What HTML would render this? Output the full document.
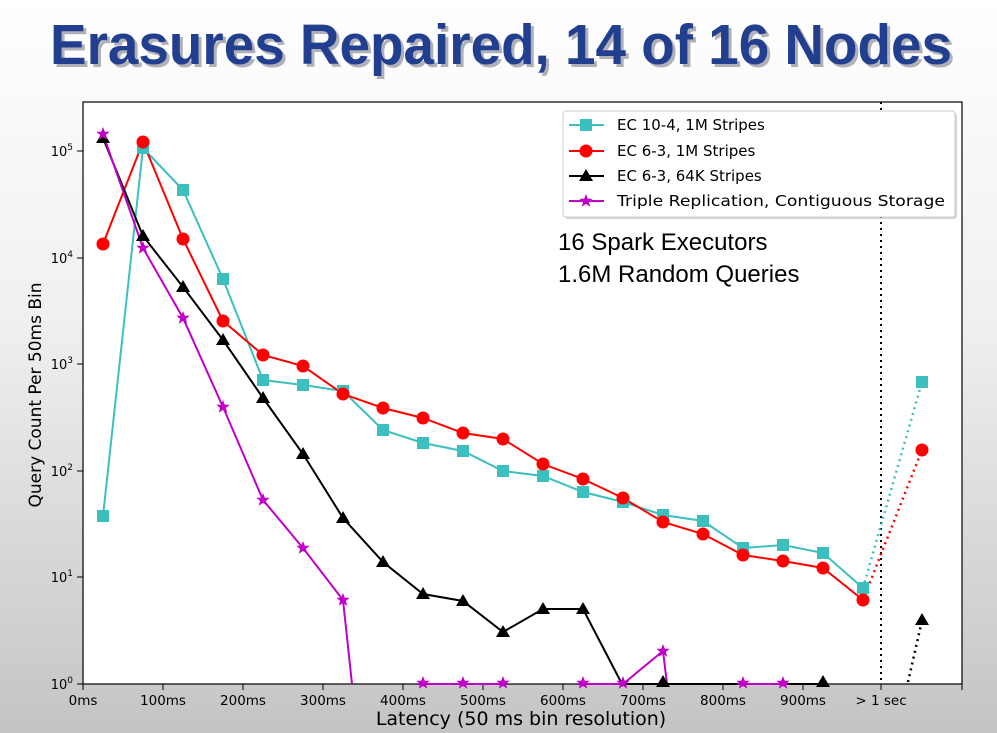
<!DOCTYPE html>
<html><head><meta charset="utf-8"><style>
html,body{margin:0;padding:0;width:997px;height:733px;overflow:hidden;}
body{background:#ddd;font-family:"DejaVu Sans","Liberation Sans",sans-serif;}
</style></head><body>
<svg width="997" height="733" xmlns="http://www.w3.org/2000/svg" style="position:absolute;left:0;top:0" font-family="DejaVu Sans, Liberation Sans, sans-serif">
<defs>
<linearGradient id="bg" x1="0" y1="0" x2="0" y2="1"><stop offset="0" stop-color="#fff"/><stop offset="0.45" stop-color="#efefef"/><stop offset="1" stop-color="#c4c4c4"/></linearGradient>
<g id="sq"><rect x="-6" y="-6" width="12" height="12" fill="#3cbfbf"/></g>
<g id="ci"><circle r="6.5" fill="#f00"/></g>
<g id="tr"><polygon points="0,-7 7,5 -7,5" fill="#000"/></g>
<g id="st"><polygon points="0,-7 1.8,-2.3 6.7,-2.2 2.9,0.9 4.2,5.7 0,2.9 -4.2,5.7 -2.9,0.9 -6.7,-2.2 -1.8,-2.3" fill="#c000c8"/></g>
</defs>
<rect width="997" height="733" fill="url(#bg)"/>
<text x="50" y="64" font-family="Liberation Sans, sans-serif" font-size="57" font-weight="bold" fill="#556" opacity="0.45" transform="translate(3,3)" textLength="902" lengthAdjust="spacingAndGlyphs">Erasures Repaired, 14 of 16 Nodes</text>
<text x="50" y="64" font-family="Liberation Sans, sans-serif" font-size="57" font-weight="bold" fill="#223f8f" textLength="902" lengthAdjust="spacingAndGlyphs">Erasures Repaired, 14 of 16 Nodes</text>
<rect x="83" y="102" width="879" height="582" fill="#fff" stroke="#000" stroke-width="1.2"/>
<line x1="881" y1="102" x2="881" y2="684" stroke="#000" stroke-width="2" stroke-dasharray="2,4"/>
<g stroke="#000" stroke-width="1">
<line x1="77" y1="684" x2="83" y2="684"/><line x1="77" y1="577" x2="83" y2="577"/><line x1="77" y1="471" x2="83" y2="471"/><line x1="77" y1="364" x2="83" y2="364"/><line x1="77" y1="258" x2="83" y2="258"/><line x1="77" y1="151" x2="83" y2="151"/>
</g>
<g font-size="13" fill="#000" text-anchor="end">
<text x="73" y="689">10<tspan font-size="9" dy="-6">0</tspan></text>
<text x="73" y="582">10<tspan font-size="9" dy="-6">1</tspan></text>
<text x="73" y="476">10<tspan font-size="9" dy="-6">2</tspan></text>
<text x="73" y="369">10<tspan font-size="9" dy="-6">3</tspan></text>
<text x="73" y="263">10<tspan font-size="9" dy="-6">4</tspan></text>
<text x="73" y="156">10<tspan font-size="9" dy="-6">5</tspan></text>
</g>
<g stroke="#000" stroke-width="1">
<line x1="83" y1="684" x2="83" y2="690"/><line x1="163" y1="684" x2="163" y2="690"/><line x1="243" y1="684" x2="243" y2="690"/><line x1="323" y1="684" x2="323" y2="690"/><line x1="403" y1="684" x2="403" y2="690"/><line x1="483" y1="684" x2="483" y2="690"/><line x1="563" y1="684" x2="563" y2="690"/><line x1="643" y1="684" x2="643" y2="690"/><line x1="723" y1="684" x2="723" y2="690"/><line x1="803" y1="684" x2="803" y2="690"/><line x1="881" y1="684" x2="881" y2="690"/><line x1="962" y1="684" x2="962" y2="690"/>
</g>
<g font-size="13.5" fill="#000" text-anchor="middle">
<text x="83" y="705">0ms</text><text x="163" y="705">100ms</text><text x="243" y="705">200ms</text><text x="323" y="705">300ms</text><text x="403" y="705">400ms</text><text x="483" y="705">500ms</text><text x="563" y="705">600ms</text><text x="643" y="705">700ms</text><text x="723" y="705">800ms</text><text x="803" y="705">900ms</text><text x="881" y="705">&gt; 1 sec</text>
</g>
<text x="521" y="725" font-size="19" text-anchor="middle">Latency (50 ms bin resolution)</text>
<text transform="translate(41,395) rotate(-90)" font-size="17" text-anchor="middle">Query Count Per 50ms Bin</text>
<polyline fill="none" stroke="#3cbfbf" stroke-width="2" points="103,516 143,148 183,190 223,279 263,380 303,385 343,391 383,430 423,443 463,451 503,471 543,476 583,492 623,502 663,515 703,521 743,548 783,545 823,553 863,588"/>
<line x1="863" y1="588" x2="922" y2="382" stroke="#3cbfbf" stroke-width="2.5" stroke-dasharray="2,4"/>
<polyline fill="none" stroke="#f00" stroke-width="2" points="103,244 143,142 183,239 223,321 263,355 303,366 343,394 383,408 423,418 463,433 503,439 543,464 583,479 623,498 663,522 703,534 743,555 783,561 823,568 863,600"/>
<line x1="863" y1="600" x2="922" y2="450" stroke="#f00" stroke-width="2.5" stroke-dasharray="2,4"/>
<polyline fill="none" stroke="#000" stroke-width="2" points="103,138 143,236 183,287 223,340 263,398 303,454 343,518 383,562 423,594 463,601 503,632 543,609 583,609 622,684 823,684"/>
<line x1="908" y1="682" x2="921" y2="625" stroke="#000" stroke-width="2.5" stroke-dasharray="2,4"/>
<polyline fill="none" stroke="#c000c8" stroke-width="2" points="103,134 143,248 183,318 223,407 263,500 303,548 343,600 352,684"/>
<polyline fill="none" stroke="#c000c8" stroke-width="2" points="418,684 505,684"/>
<polyline fill="none" stroke="#c000c8" stroke-width="2" points="578,684 623,684 663,651 667,684"/>
<polyline fill="none" stroke="#c000c8" stroke-width="2" points="738,684 787,684"/>
<g>
<use href="#sq" x="103" y="516"/><use href="#sq" x="143" y="148"/><use href="#sq" x="183" y="190"/><use href="#sq" x="223" y="279"/><use href="#sq" x="263" y="380"/><use href="#sq" x="303" y="385"/><use href="#sq" x="343" y="391"/><use href="#sq" x="383" y="430"/><use href="#sq" x="423" y="443"/><use href="#sq" x="463" y="451"/><use href="#sq" x="503" y="471"/><use href="#sq" x="543" y="476"/><use href="#sq" x="583" y="492"/><use href="#sq" x="623" y="502"/><use href="#sq" x="663" y="515"/><use href="#sq" x="703" y="521"/><use href="#sq" x="743" y="548"/><use href="#sq" x="783" y="545"/><use href="#sq" x="823" y="553"/><use href="#sq" x="863" y="588"/><use href="#sq" x="922" y="382"/>
<use href="#ci" x="103" y="244"/><use href="#ci" x="143" y="142"/><use href="#ci" x="183" y="239"/><use href="#ci" x="223" y="321"/><use href="#ci" x="263" y="355"/><use href="#ci" x="303" y="366"/><use href="#ci" x="343" y="394"/><use href="#ci" x="383" y="408"/><use href="#ci" x="423" y="418"/><use href="#ci" x="463" y="433"/><use href="#ci" x="503" y="439"/><use href="#ci" x="543" y="464"/><use href="#ci" x="583" y="479"/><use href="#ci" x="623" y="498"/><use href="#ci" x="663" y="522"/><use href="#ci" x="703" y="534"/><use href="#ci" x="743" y="555"/><use href="#ci" x="783" y="561"/><use href="#ci" x="823" y="568"/><use href="#ci" x="863" y="600"/><use href="#ci" x="922" y="450"/>
<use href="#tr" x="103" y="138"/><use href="#tr" x="143" y="236"/><use href="#tr" x="183" y="287"/><use href="#tr" x="223" y="340"/><use href="#tr" x="263" y="398"/><use href="#tr" x="303" y="454"/><use href="#tr" x="343" y="518"/><use href="#tr" x="383" y="562"/><use href="#tr" x="423" y="594"/><use href="#tr" x="463" y="601"/><use href="#tr" x="503" y="632"/><use href="#tr" x="543" y="609"/><use href="#tr" x="583" y="609"/><use href="#tr" x="663" y="682"/><use href="#tr" x="823" y="682"/><use href="#tr" x="922" y="620"/>
<use href="#st" x="103" y="134"/><use href="#st" x="143" y="248"/><use href="#st" x="183" y="318"/><use href="#st" x="223" y="407"/><use href="#st" x="263" y="500"/><use href="#st" x="303" y="548"/><use href="#st" x="343" y="600"/><use href="#st" x="663" y="651"/>
<use href="#st" x="423" y="683"/><use href="#st" x="463" y="683"/><use href="#st" x="503" y="683"/><use href="#st" x="583" y="683"/><use href="#st" x="623" y="683"/><use href="#st" x="743" y="683"/><use href="#st" x="783" y="683"/>
</g>
<rect x="565" y="113" width="392" height="106" rx="3" fill="#999" opacity="0.4"/>
<rect x="563" y="111" width="392" height="106" rx="3" fill="#fff" stroke="#ccc"/>
<g font-size="15" fill="#000">
<line x1="569" y1="125" x2="604" y2="125" stroke="#3cbfbf" stroke-width="2"/><use href="#sq" x="586" y="125"/><text x="617" y="130">EC 10-4, 1M Stripes</text>
<line x1="569" y1="151" x2="604" y2="151" stroke="#f00" stroke-width="2"/><use href="#ci" x="586" y="151"/><text x="617" y="156">EC 6-3, 1M Stripes</text>
<line x1="569" y1="176" x2="604" y2="176" stroke="#000" stroke-width="2"/><use href="#tr" x="586" y="176"/><text x="617" y="181">EC 6-3, 64K Stripes</text>
<line x1="569" y1="201" x2="604" y2="201" stroke="#c000c8" stroke-width="2"/><use href="#st" x="586" y="201"/><text x="617" y="206" textLength="328" lengthAdjust="spacingAndGlyphs">Triple Replication, Contiguous Storage</text>
</g>
<text x="558" y="250" font-family="Liberation Sans, sans-serif" font-size="24" fill="#000">16 Spark Executors</text>
<text x="558" y="282" font-family="Liberation Sans, sans-serif" font-size="24" fill="#000">1.6M Random Queries</text>
</svg>
</body></html>
